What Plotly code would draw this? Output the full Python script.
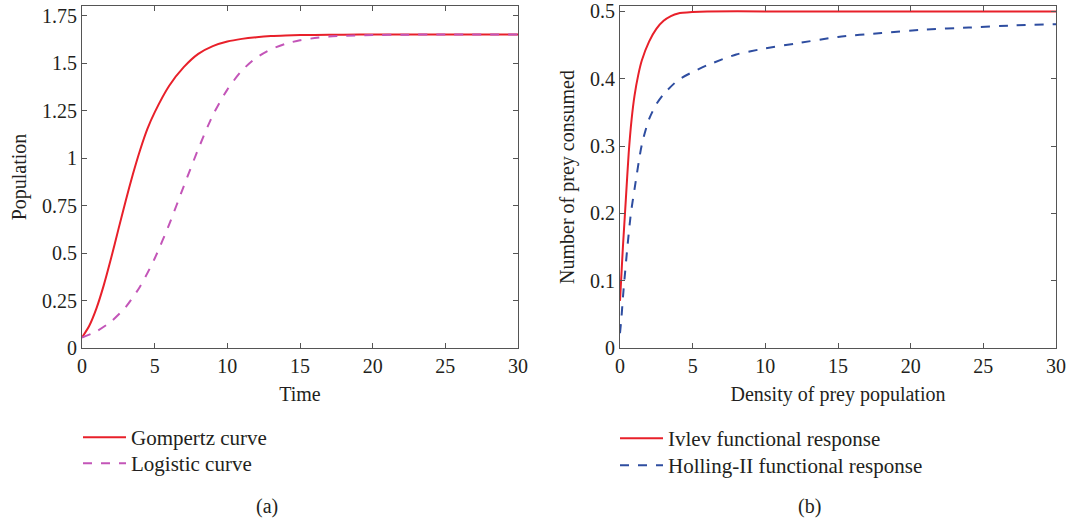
import plotly.graph_objects as go

# ---- Data ----
t_gomp = [0, 0.5, 1, 1.5, 2, 2.5, 3, 3.5, 4, 4.5, 5, 6, 7, 8, 9, 10, 11, 12, 13, 14, 16, 18, 20, 25, 30]
gompertz = [0.055, 0.117, 0.210, 0.331, 0.472, 0.623, 0.773, 0.914, 1.042, 1.153, 1.240, 1.380,
            1.478, 1.548, 1.589, 1.613, 1.627, 1.636, 1.642, 1.645, 1.648, 1.649, 1.650, 1.650, 1.650]

t_logi = [0, 1, 2, 3, 4, 5, 6, 7, 8, 9, 10, 11, 12, 13, 14, 15, 16, 17, 18, 20, 22, 25, 30]
logistic = [0.055, 0.088, 0.139, 0.215, 0.324, 0.471, 0.651, 0.851, 1.047, 1.225, 1.360, 1.460,
            1.528, 1.572, 1.601, 1.620, 1.631, 1.639, 1.643, 1.647, 1.649, 1.650, 1.650]

x_ivlev = [0, 0.1, 0.2, 0.3, 0.4, 0.6, 0.8, 1.0, 1.25, 1.5, 2.0, 2.5, 3.0, 3.5, 4.0, 5, 6, 10, 15, 20, 25, 30]
ivlev = [0.07, 0.11, 0.15, 0.185, 0.22, 0.29, 0.34, 0.375, 0.405, 0.427, 0.455, 0.474, 0.486,
         0.493, 0.497, 0.499, 0.5, 0.5, 0.5, 0.5, 0.5, 0.5]

x_holl = [0, 0.1, 0.2, 0.3, 0.5, 0.75, 1, 1.5, 2, 2.5, 3, 4, 5, 6, 8, 10, 12, 15, 18, 21, 24, 27, 30]
holling = [0.022, 0.045, 0.075, 0.10, 0.148, 0.20, 0.236, 0.302, 0.34, 0.362, 0.377, 0.398, 0.41,
           0.42, 0.436, 0.445, 0.452, 0.462, 0.468, 0.473, 0.476, 0.479, 0.481]

x_ticks = [0, 5, 10, 15, 20, 25, 30]
x_ticklabels = ["0", "5", "10", "15", "20", "25", "30"]
ya_ticks = [0, 0.25, 0.5, 0.75, 1, 1.25, 1.5, 1.75]
ya_ticklabels = ["0", "0.25", "0.5", "0.75", "1", "1.25", "1.5", "1.75"]
yb_ticks = [0, 0.1, 0.2, 0.3, 0.4, 0.5]
yb_ticklabels = ["0", "0.1", "0.2", "0.3", "0.4", "0.5"]

FONT = "Liberation Serif"
TXT = "#231f20"
RED = "#e8202a"
MAG = "#c355b8"
BLUE = "#2e4da0"
FS = 20
LFS = 21

fig = go.Figure()
fig.add_trace(go.Scatter(x=t_gomp, y=gompertz, mode="lines", name="Gompertz curve",
                         line=dict(color=RED, width=2, shape="spline", smoothing=0.7),
                         xaxis="x", yaxis="y", legend="legend"))
fig.add_trace(go.Scatter(x=t_logi, y=logistic, mode="lines", name="Logistic curve",
                         line=dict(color=MAG, width=2, dash="dash", shape="spline", smoothing=0.7),
                         xaxis="x", yaxis="y", legend="legend2"))
fig.add_trace(go.Scatter(x=x_ivlev, y=ivlev, mode="lines", name="Ivlev functional response",
                         line=dict(color=RED, width=2, shape="spline", smoothing=0.6),
                         xaxis="x2", yaxis="y2", legend="legend3"))
fig.add_trace(go.Scatter(x=x_holl, y=holling, mode="lines", name="Holling-II functional response",
                         line=dict(color=BLUE, width=2, dash="dash", shape="spline", smoothing=0.7),
                         xaxis="x2", yaxis="y2", legend="legend4"))

axis_common = dict(showline=True, linecolor="#555555", linewidth=1, mirror="ticks",
                   ticks="inside", ticklen=5, tickcolor="#555555", showgrid=False,
                   zeroline=False, automargin=False,
                   tickfont=dict(family=FONT, size=FS, color=TXT))
title_font = dict(family=FONT, size=FS, color=TXT)

Y_DOM = [1 - 348 / 523, 1 - 6 / 523]


def leg(xpx, ypx):
    return dict(x=xpx / 1070, y=1 - ypx / 523, xanchor="left", yanchor="top",
                font=dict(family=FONT, size=LFS, color=TXT), bgcolor="rgba(0,0,0,0)",
                tracegroupgap=0, itemwidth=43)


fig.update_layout(
    width=1070, height=523,
    margin=dict(l=0, r=0, t=0, b=0, autoexpand=False),
    paper_bgcolor="white", plot_bgcolor="white",
    font=dict(family=FONT, color=TXT, size=FS),
    xaxis=dict(domain=[82 / 1070, 518 / 1070], range=[0, 30], tickvals=x_ticks,
               ticktext=x_ticklabels, anchor="y",
               title=dict(text="Time", font=title_font, standoff=10),
               **axis_common),
    yaxis=dict(domain=Y_DOM, range=[0, 1.8], tickvals=ya_ticks, ticktext=ya_ticklabels,
               anchor="x",
               title=dict(text="Population", font=title_font, standoff=10),
               **axis_common),
    xaxis2=dict(domain=[620 / 1070, 1056 / 1070], range=[0, 30], tickvals=x_ticks,
                ticktext=x_ticklabels, anchor="y2",
                title=dict(text="Density of prey population", font=title_font, standoff=10),
                **axis_common),
    yaxis2=dict(domain=Y_DOM, range=[0, 0.508], tickvals=yb_ticks, ticktext=yb_ticklabels,
                anchor="x2",
                title=dict(text="Number of prey consumed", font=title_font, standoff=10),
                **axis_common),
    legend=leg(78, 417),
    legend2=leg(78, 443),
    legend3=leg(615, 418),
    legend4=leg(615, 445),
    showlegend=True,
    annotations=[
        dict(text="(a)", x=267 / 1070, y=1 - 506 / 523, xref="paper", yref="paper",
             xanchor="center", yanchor="middle",
             showarrow=False, font=dict(family=FONT, size=FS, color=TXT)),
        dict(text="(b)", x=809 / 1070, y=1 - 506 / 523, xref="paper", yref="paper",
             xanchor="center", yanchor="middle",
             showarrow=False, font=dict(family=FONT, size=FS, color=TXT)),
    ],
)

fig.write_html("out.html")
